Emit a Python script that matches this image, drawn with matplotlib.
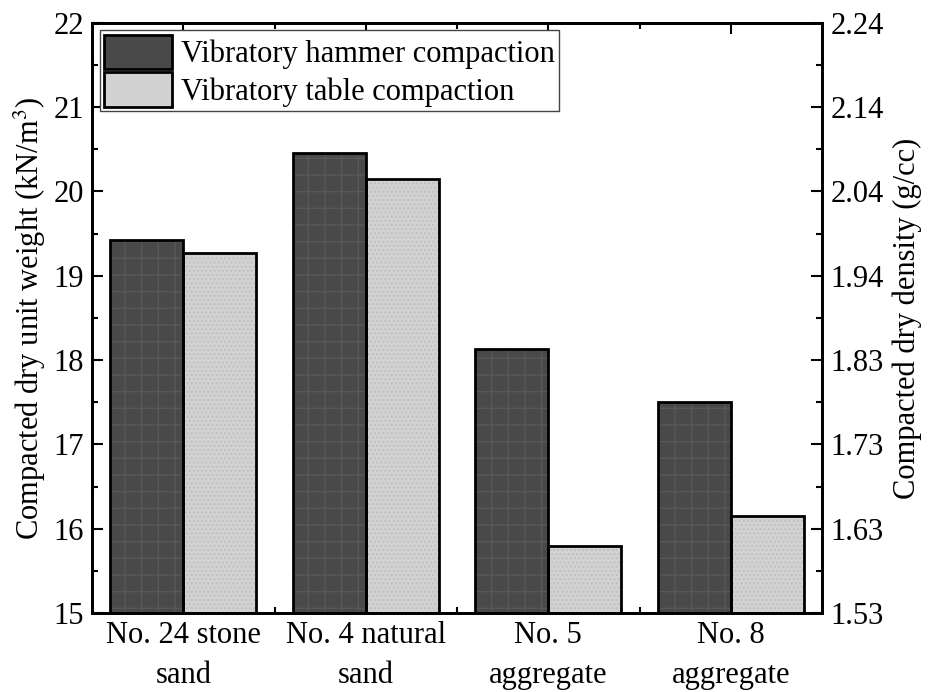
import numpy as np
import matplotlib.pyplot as plt
from matplotlib.patches import Patch
from matplotlib.ticker import FixedLocator

plt.rcParams['font.family'] = ['Liberation Serif', 'DejaVu Serif']
plt.rcParams['mathtext.fontset'] = 'stix'

# dry unit weight (kN/m3) per material
materials = ["No. 24 stone\nsand", "No. 4 natural\nsand", "No. 5\naggregate", "No. 8\naggregate"]
hammer = [19.43, 20.46, 18.13, 17.50]
table = [19.27, 20.15, 15.80, 16.15]
left_ticks = [15, 16, 17, 18, 19, 20, 21, 22]
right_ticks = ["1.53", "1.63", "1.73", "1.83", "1.94", "2.04", "2.14", "2.24"]

fs = 22
fig = plt.figure(figsize=(9.3, 6.92), dpi=100)
ax = fig.add_axes([0.099, 0.114, 0.785, 0.853])

x = np.arange(1, len(materials) + 1)
w = 0.4

# fills with a faint texture, then black outlines on top
ax.bar(x - w/2, hammer, w, color='#494949', hatch='+', edgecolor='#585858', linewidth=0, zorder=2)
ax.bar(x + w/2, table, w, color='#d2d2d2', hatch='....', edgecolor='#c0c0c0', linewidth=0, zorder=2)
ax.bar(x - w/2, hammer, w, facecolor='none', edgecolor='black', linewidth=2, zorder=3)
ax.bar(x + w/2, table, w, facecolor='none', edgecolor='black', linewidth=2, zorder=3)

minor_y = [v + 0.5 for v in left_ticks[:-1]]

ax.set_xlim(0.5, 4.5)
ax.set_ylim(15, 22)
ax.set_xticks(x)
ax.set_xticklabels(materials, fontsize=fs, linespacing=1.5)
ax.xaxis.set_minor_locator(FixedLocator([1.5, 2.5, 3.5]))
ax.set_yticks(left_ticks)
ax.yaxis.set_minor_locator(FixedLocator(minor_y))
ax.tick_params(axis='both', which='major', direction='in', length=8, width=1.5, labelsize=fs,
               top=True, pad=6)
ax.tick_params(axis='both', which='minor', direction='in', length=4, width=1.5, top=True)
ax.tick_params(axis='y', which='both', right=False)
for s in ax.spines.values():
    s.set_linewidth(2)

ax.set_ylabel("Compacted dry unit weight (kN/m$^3$)", fontsize=fs, labelpad=4)

# second axis: same scale shown as density in g/cc
ax2 = ax.twinx()
ax2.set_ylim(15, 22)
ax2.set_yticks(left_ticks)
ax2.set_yticklabels(right_ticks)
ax2.yaxis.set_minor_locator(FixedLocator(minor_y))
ax2.tick_params(axis='y', which='major', direction='in', length=8, width=1.5, labelsize=fs, pad=6)
ax2.tick_params(axis='y', which='minor', direction='in', length=4, width=1.5)
ax2.set_ylabel("Compacted dry density (g/cc)", fontsize=fs, labelpad=6)
for s in ax2.spines.values():
    s.set_linewidth(2)

handles = [Patch(facecolor='#494949', edgecolor='black', linewidth=2, label="Vibratory hammer compaction"),
           Patch(facecolor='#d2d2d2', edgecolor='black', linewidth=2, label="Vibratory table compaction")]
leg = ax.legend(handles=handles, loc='upper left', fontsize=fs, fancybox=False, framealpha=1,
                edgecolor='#444444', handlelength=2.2, handleheight=1.35, borderpad=0.15,
                labelspacing=0.1, handletextpad=0.3, borderaxespad=0.25)
leg.get_frame().set_linewidth(1.0)

fig.savefig("out.png", dpi=100)
